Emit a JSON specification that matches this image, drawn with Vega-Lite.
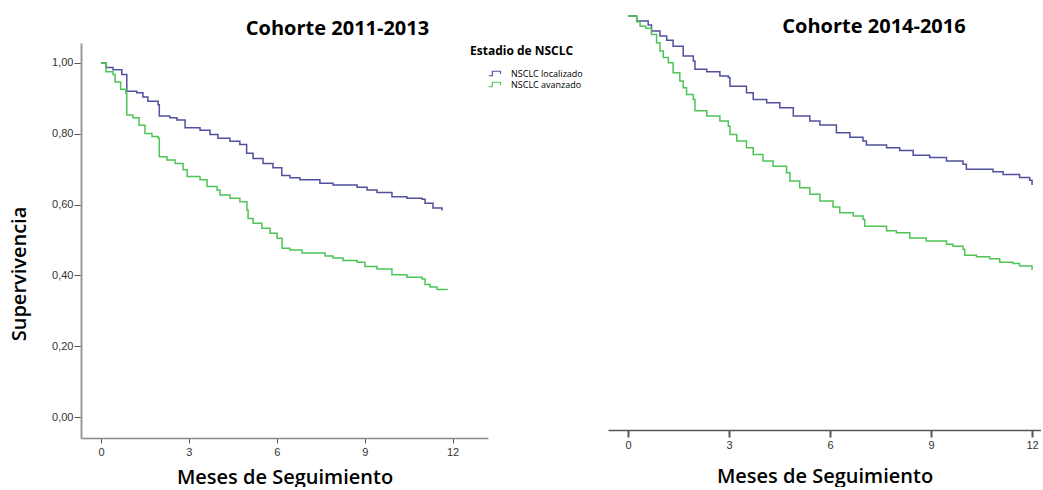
{
  "$schema": "https://vega.github.io/schema/vega-lite/v6.json",
  "padding": {"left": 9, "top": 12, "right": 0, "bottom": 0},
  "background": "white",
  "config": {"view": {"stroke": null}, "font": "Open Sans", "axis": {"grid": false}},
  "bounds": "flush",
  "spacing": 120,
  "resolve": {"scale": {"color": "independent", "x": "independent", "y": "independent"}},
  "datasets": {
    "c1113": [
      {"mes": 0, "superv": 1.0, "estadio": "NSCLC localizado"},
      {"mes": 0.17, "superv": 0.987, "estadio": "NSCLC localizado"},
      {"mes": 0.41, "superv": 0.981, "estadio": "NSCLC localizado"},
      {"mes": 0.71, "superv": 0.967, "estadio": "NSCLC localizado"},
      {"mes": 0.88, "superv": 0.92, "estadio": "NSCLC localizado"},
      {"mes": 1.22, "superv": 0.916, "estadio": "NSCLC localizado"},
      {"mes": 1.43, "superv": 0.904, "estadio": "NSCLC localizado"},
      {"mes": 1.6, "superv": 0.892, "estadio": "NSCLC localizado"},
      {"mes": 1.95, "superv": 0.882, "estadio": "NSCLC localizado"},
      {"mes": 1.99, "superv": 0.85, "estadio": "NSCLC localizado"},
      {"mes": 2.35, "superv": 0.845, "estadio": "NSCLC localizado"},
      {"mes": 2.59, "superv": 0.839, "estadio": "NSCLC localizado"},
      {"mes": 2.87, "superv": 0.817, "estadio": "NSCLC localizado"},
      {"mes": 3.38, "superv": 0.81, "estadio": "NSCLC localizado"},
      {"mes": 3.72, "superv": 0.798, "estadio": "NSCLC localizado"},
      {"mes": 3.99, "superv": 0.787, "estadio": "NSCLC localizado"},
      {"mes": 4.4, "superv": 0.779, "estadio": "NSCLC localizado"},
      {"mes": 4.74, "superv": 0.77, "estadio": "NSCLC localizado"},
      {"mes": 4.97, "superv": 0.745, "estadio": "NSCLC localizado"},
      {"mes": 5.19, "superv": 0.73, "estadio": "NSCLC localizado"},
      {"mes": 5.53, "superv": 0.716, "estadio": "NSCLC localizado"},
      {"mes": 5.87, "superv": 0.704, "estadio": "NSCLC localizado"},
      {"mes": 6.17, "superv": 0.682, "estadio": "NSCLC localizado"},
      {"mes": 6.45, "superv": 0.676, "estadio": "NSCLC localizado"},
      {"mes": 6.79, "superv": 0.67, "estadio": "NSCLC localizado"},
      {"mes": 7.47, "superv": 0.66, "estadio": "NSCLC localizado"},
      {"mes": 7.92, "superv": 0.655, "estadio": "NSCLC localizado"},
      {"mes": 8.74, "superv": 0.649, "estadio": "NSCLC localizado"},
      {"mes": 9.08, "superv": 0.641, "estadio": "NSCLC localizado"},
      {"mes": 9.42, "superv": 0.634, "estadio": "NSCLC localizado"},
      {"mes": 9.93, "superv": 0.622, "estadio": "NSCLC localizado"},
      {"mes": 10.44, "superv": 0.618, "estadio": "NSCLC localizado"},
      {"mes": 10.96, "superv": 0.615, "estadio": "NSCLC localizado"},
      {"mes": 11.06, "superv": 0.604, "estadio": "NSCLC localizado"},
      {"mes": 11.33, "superv": 0.59, "estadio": "NSCLC localizado"},
      {"mes": 11.64, "superv": 0.583, "estadio": "NSCLC localizado"},
      {"mes": 0, "superv": 1.0, "estadio": "NSCLC avanzado"},
      {"mes": 0.17, "superv": 0.975, "estadio": "NSCLC avanzado"},
      {"mes": 0.41, "superv": 0.967, "estadio": "NSCLC avanzado"},
      {"mes": 0.48, "superv": 0.946, "estadio": "NSCLC avanzado"},
      {"mes": 0.67, "superv": 0.926, "estadio": "NSCLC avanzado"},
      {"mes": 0.85, "superv": 0.914, "estadio": "NSCLC avanzado"},
      {"mes": 0.88, "superv": 0.853, "estadio": "NSCLC avanzado"},
      {"mes": 1.09, "superv": 0.845, "estadio": "NSCLC avanzado"},
      {"mes": 1.3, "superv": 0.824, "estadio": "NSCLC avanzado"},
      {"mes": 1.5, "superv": 0.801, "estadio": "NSCLC avanzado"},
      {"mes": 1.74, "superv": 0.792, "estadio": "NSCLC avanzado"},
      {"mes": 1.95, "superv": 0.787, "estadio": "NSCLC avanzado"},
      {"mes": 1.99, "superv": 0.735, "estadio": "NSCLC avanzado"},
      {"mes": 2.25, "superv": 0.726, "estadio": "NSCLC avanzado"},
      {"mes": 2.53, "superv": 0.716, "estadio": "NSCLC avanzado"},
      {"mes": 2.8, "superv": 0.698, "estadio": "NSCLC avanzado"},
      {"mes": 2.94, "superv": 0.679, "estadio": "NSCLC avanzado"},
      {"mes": 3.38, "superv": 0.67, "estadio": "NSCLC avanzado"},
      {"mes": 3.62, "superv": 0.651, "estadio": "NSCLC avanzado"},
      {"mes": 3.96, "superv": 0.641, "estadio": "NSCLC avanzado"},
      {"mes": 4.06, "superv": 0.627, "estadio": "NSCLC avanzado"},
      {"mes": 4.4, "superv": 0.618, "estadio": "NSCLC avanzado"},
      {"mes": 4.74, "superv": 0.608, "estadio": "NSCLC avanzado"},
      {"mes": 4.98, "superv": 0.585, "estadio": "NSCLC avanzado"},
      {"mes": 5.02, "superv": 0.561, "estadio": "NSCLC avanzado"},
      {"mes": 5.19, "superv": 0.547, "estadio": "NSCLC avanzado"},
      {"mes": 5.49, "superv": 0.533, "estadio": "NSCLC avanzado"},
      {"mes": 5.77, "superv": 0.519, "estadio": "NSCLC avanzado"},
      {"mes": 6.01, "superv": 0.505, "estadio": "NSCLC avanzado"},
      {"mes": 6.18, "superv": 0.477, "estadio": "NSCLC avanzado"},
      {"mes": 6.45, "superv": 0.472, "estadio": "NSCLC avanzado"},
      {"mes": 6.86, "superv": 0.463, "estadio": "NSCLC avanzado"},
      {"mes": 7.65, "superv": 0.455, "estadio": "NSCLC avanzado"},
      {"mes": 7.92, "superv": 0.449, "estadio": "NSCLC avanzado"},
      {"mes": 8.26, "superv": 0.442, "estadio": "NSCLC avanzado"},
      {"mes": 8.74, "superv": 0.437, "estadio": "NSCLC avanzado"},
      {"mes": 9.01, "superv": 0.425, "estadio": "NSCLC avanzado"},
      {"mes": 9.42, "superv": 0.418, "estadio": "NSCLC avanzado"},
      {"mes": 9.93, "superv": 0.402, "estadio": "NSCLC avanzado"},
      {"mes": 10.44, "superv": 0.395, "estadio": "NSCLC avanzado"},
      {"mes": 10.96, "superv": 0.39, "estadio": "NSCLC avanzado"},
      {"mes": 11.06, "superv": 0.374, "estadio": "NSCLC avanzado"},
      {"mes": 11.23, "superv": 0.367, "estadio": "NSCLC avanzado"},
      {"mes": 11.47, "superv": 0.36, "estadio": "NSCLC avanzado"},
      {"mes": 11.81, "superv": 0.358, "estadio": "NSCLC avanzado"}
    ],
    "c1416": [
      {"mes": 0, "superv": 1.0, "estadio": "NSCLC localizado"},
      {"mes": 0.26, "superv": 0.987, "estadio": "NSCLC localizado"},
      {"mes": 0.6, "superv": 0.977, "estadio": "NSCLC localizado"},
      {"mes": 0.7, "superv": 0.962, "estadio": "NSCLC localizado"},
      {"mes": 0.95, "superv": 0.949, "estadio": "NSCLC localizado"},
      {"mes": 1.15, "superv": 0.938, "estadio": "NSCLC localizado"},
      {"mes": 1.34, "superv": 0.923, "estadio": "NSCLC localizado"},
      {"mes": 1.64, "superv": 0.898, "estadio": "NSCLC localizado"},
      {"mes": 1.94, "superv": 0.885, "estadio": "NSCLC localizado"},
      {"mes": 1.99, "superv": 0.864, "estadio": "NSCLC localizado"},
      {"mes": 2.34, "superv": 0.858, "estadio": "NSCLC localizado"},
      {"mes": 2.73, "superv": 0.847, "estadio": "NSCLC localizado"},
      {"mes": 2.98, "superv": 0.843, "estadio": "NSCLC localizado"},
      {"mes": 3.03, "superv": 0.821, "estadio": "NSCLC localizado"},
      {"mes": 3.52, "superv": 0.804, "estadio": "NSCLC localizado"},
      {"mes": 3.72, "superv": 0.787, "estadio": "NSCLC localizado"},
      {"mes": 4.12, "superv": 0.779, "estadio": "NSCLC localizado"},
      {"mes": 4.51, "superv": 0.766, "estadio": "NSCLC localizado"},
      {"mes": 4.91, "superv": 0.745, "estadio": "NSCLC localizado"},
      {"mes": 5.4, "superv": 0.732, "estadio": "NSCLC localizado"},
      {"mes": 5.7, "superv": 0.722, "estadio": "NSCLC localizado"},
      {"mes": 6.19, "superv": 0.702, "estadio": "NSCLC localizado"},
      {"mes": 6.59, "superv": 0.691, "estadio": "NSCLC localizado"},
      {"mes": 6.98, "superv": 0.681, "estadio": "NSCLC localizado"},
      {"mes": 7.08, "superv": 0.671, "estadio": "NSCLC localizado"},
      {"mes": 7.68, "superv": 0.664, "estadio": "NSCLC localizado"},
      {"mes": 8.07, "superv": 0.657, "estadio": "NSCLC localizado"},
      {"mes": 8.47, "superv": 0.645, "estadio": "NSCLC localizado"},
      {"mes": 8.96, "superv": 0.639, "estadio": "NSCLC localizado"},
      {"mes": 9.46, "superv": 0.63, "estadio": "NSCLC localizado"},
      {"mes": 9.95, "superv": 0.622, "estadio": "NSCLC localizado"},
      {"mes": 10.05, "superv": 0.609, "estadio": "NSCLC localizado"},
      {"mes": 10.84, "superv": 0.603, "estadio": "NSCLC localizado"},
      {"mes": 11.14, "superv": 0.596, "estadio": "NSCLC localizado"},
      {"mes": 11.63, "superv": 0.588, "estadio": "NSCLC localizado"},
      {"mes": 11.93, "superv": 0.581, "estadio": "NSCLC localizado"},
      {"mes": 12.0, "superv": 0.569, "estadio": "NSCLC localizado"},
      {"mes": 0, "superv": 1.0, "estadio": "NSCLC avanzado"},
      {"mes": 0.26, "superv": 0.985, "estadio": "NSCLC avanzado"},
      {"mes": 0.36, "superv": 0.974, "estadio": "NSCLC avanzado"},
      {"mes": 0.53, "superv": 0.969, "estadio": "NSCLC avanzado"},
      {"mes": 0.7, "superv": 0.953, "estadio": "NSCLC avanzado"},
      {"mes": 0.85, "superv": 0.932, "estadio": "NSCLC avanzado"},
      {"mes": 0.95, "superv": 0.911, "estadio": "NSCLC avanzado"},
      {"mes": 1.05, "superv": 0.894, "estadio": "NSCLC avanzado"},
      {"mes": 1.2, "superv": 0.881, "estadio": "NSCLC avanzado"},
      {"mes": 1.34, "superv": 0.855, "estadio": "NSCLC avanzado"},
      {"mes": 1.54, "superv": 0.834, "estadio": "NSCLC avanzado"},
      {"mes": 1.64, "superv": 0.817, "estadio": "NSCLC avanzado"},
      {"mes": 1.74, "superv": 0.8, "estadio": "NSCLC avanzado"},
      {"mes": 1.94, "superv": 0.787, "estadio": "NSCLC avanzado"},
      {"mes": 1.99, "superv": 0.758, "estadio": "NSCLC avanzado"},
      {"mes": 2.34, "superv": 0.745, "estadio": "NSCLC avanzado"},
      {"mes": 2.73, "superv": 0.732, "estadio": "NSCLC avanzado"},
      {"mes": 2.98, "superv": 0.719, "estadio": "NSCLC avanzado"},
      {"mes": 3.03, "superv": 0.698, "estadio": "NSCLC avanzado"},
      {"mes": 3.23, "superv": 0.681, "estadio": "NSCLC avanzado"},
      {"mes": 3.52, "superv": 0.664, "estadio": "NSCLC avanzado"},
      {"mes": 3.72, "superv": 0.647, "estadio": "NSCLC avanzado"},
      {"mes": 4.01, "superv": 0.63, "estadio": "NSCLC avanzado"},
      {"mes": 4.31, "superv": 0.617, "estadio": "NSCLC avanzado"},
      {"mes": 4.71, "superv": 0.6, "estadio": "NSCLC avanzado"},
      {"mes": 4.81, "superv": 0.579, "estadio": "NSCLC avanzado"},
      {"mes": 5.1, "superv": 0.562, "estadio": "NSCLC avanzado"},
      {"mes": 5.4, "superv": 0.545, "estadio": "NSCLC avanzado"},
      {"mes": 5.7, "superv": 0.528, "estadio": "NSCLC avanzado"},
      {"mes": 6.09, "superv": 0.513, "estadio": "NSCLC avanzado"},
      {"mes": 6.29, "superv": 0.498, "estadio": "NSCLC avanzado"},
      {"mes": 6.69, "superv": 0.49, "estadio": "NSCLC avanzado"},
      {"mes": 6.98, "superv": 0.481, "estadio": "NSCLC avanzado"},
      {"mes": 7.03, "superv": 0.464, "estadio": "NSCLC avanzado"},
      {"mes": 7.68, "superv": 0.452, "estadio": "NSCLC avanzado"},
      {"mes": 7.97, "superv": 0.447, "estadio": "NSCLC avanzado"},
      {"mes": 8.37, "superv": 0.434, "estadio": "NSCLC avanzado"},
      {"mes": 8.86, "superv": 0.426, "estadio": "NSCLC avanzado"},
      {"mes": 9.46, "superv": 0.418, "estadio": "NSCLC avanzado"},
      {"mes": 9.65, "superv": 0.413, "estadio": "NSCLC avanzado"},
      {"mes": 9.95, "superv": 0.405, "estadio": "NSCLC avanzado"},
      {"mes": 10.0, "superv": 0.39, "estadio": "NSCLC avanzado"},
      {"mes": 10.35, "superv": 0.386, "estadio": "NSCLC avanzado"},
      {"mes": 10.74, "superv": 0.381, "estadio": "NSCLC avanzado"},
      {"mes": 11.04, "superv": 0.372, "estadio": "NSCLC avanzado"},
      {"mes": 11.43, "superv": 0.369, "estadio": "NSCLC avanzado"},
      {"mes": 11.63, "superv": 0.362, "estadio": "NSCLC avanzado"},
      {"mes": 12.0, "superv": 0.352, "estadio": "NSCLC avanzado"}
    ]
  },
  "hconcat": [
    {
      "width": 407,
      "height": 395,
      "title": {"text": "Cohorte 2011-2013", "anchor": "middle", "frame": "group", "fontSize": 20, "fontWeight": "bold", "color": "black", "dx": 53, "offset": 4},
      "data": {"name": "c1113"},
      "mark": {"type": "line", "interpolate": "step-after", "strokeWidth": 1.5},
      "encoding": {
        "x": {
          "field": "mes", "type": "quantitative",
          "scale": {"domain": [-0.683, 13.208], "nice": false, "zero": false},
          "axis": {"values": [0, 3, 6, 9, 12], "title": "Meses de Seguimiento", "titleFontSize": 20, "titleFontWeight": 600, "titleColor": "black", "titlePadding": 10, "labelFont": "Liberation Sans", "labelFontSize": 11, "labelColor": "#333", "labelPadding": 3, "tickSize": 5, "tickColor": "#555", "domainColor": "#888", "domainWidth": 1.5}
        },
        "y": {
          "field": "superv", "type": "quantitative",
          "scale": {"domain": [-0.0592, 1.0563], "nice": false, "zero": false},
          "axis": {"values": [0, 0.2, 0.4, 0.6, 0.8, 1.0], "labelExpr": "replace(format(datum.value, '.2f'), '.', ',')", "title": "Supervivencia", "titleFontSize": 20, "titleFontWeight": 600, "titleColor": "black", "titleX": -61.5, "titleY": 230.5, "titleAngle": 270, "titleAlign": "center", "titleBaseline": "middle", "labelFont": "Liberation Sans", "labelFontSize": 11, "labelColor": "#333", "labelPadding": 1, "tickSize": 7, "tickColor": "#555", "domainColor": "#999", "domainWidth": 2}
        },
        "color": {
          "field": "estadio", "type": "nominal",
          "scale": {"domain": ["NSCLC localizado", "NSCLC avanzado"], "range": ["#50509c", "#4ec457"]},
          "legend": {"orient": "none", "legendX": 389, "legendY": 3, "title": "Estadio de NSCLC", "titleFont": "Open Sans", "titleFontSize": 12, "titleFontWeight": "bold", "titleColor": "black", "titlePadding": 10, "labelFont": "Open Sans", "labelFontSize": 9, "labelColor": "black", "labelOffset": 10, "symbolType": "M-1.5,0.5H-0.7V-0.5H1.1V0.1", "symbolSize": 81, "symbolStrokeWidth": 1.2, "symbolFillColor": "transparent", "symbolOffset": 20, "rowPadding": -2, "padding": 0}
        }
      }
    },
    {
      "width": 433,
      "height": 387,
      "title": {"text": "Cohorte 2014-2016", "anchor": "middle", "frame": "group", "fontSize": 20, "fontWeight": "bold", "color": "black", "dx": 49.5, "offset": -24},
      "data": {"name": "c1416"},
      "mark": {"type": "line", "interpolate": "step-after", "strokeWidth": 1.5},
      "encoding": {
        "x": {
          "field": "mes", "type": "quantitative",
          "scale": {"domain": [-0.593, 12.266], "nice": false, "zero": false},
          "axis": {"values": [0, 3, 6, 9, 12], "title": "Meses de Seguimiento", "titleFontSize": 20, "titleFontWeight": 600, "titleColor": "black", "titlePadding": 16, "labelFont": "Liberation Sans", "labelFontSize": 11, "labelColor": "#333", "labelPadding": 2, "tickSize": 7, "tickWidth": 2, "tickColor": "#555", "domainColor": "#555", "domainWidth": 1.5}
        },
        "y": {
          "field": "superv", "type": "quantitative",
          "scale": {"domain": [-0.056, 0.9311], "nice": false, "zero": false},
          "axis": null
        },
        "color": {
          "field": "estadio", "type": "nominal",
          "scale": {"domain": ["NSCLC localizado", "NSCLC avanzado"], "range": ["#50509c", "#4ec457"]},
          "legend": null
        }
      }
    }
  ]
}
